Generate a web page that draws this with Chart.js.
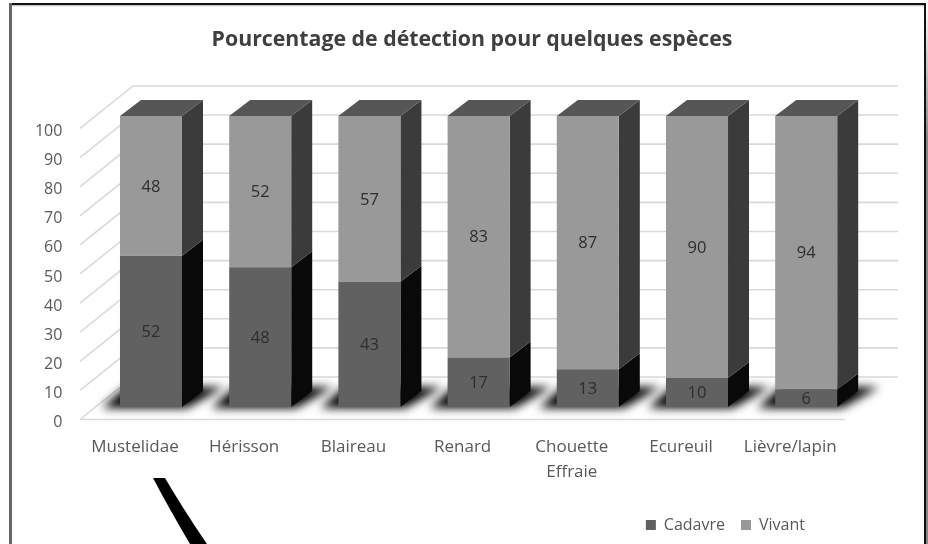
<!DOCTYPE html>
<html>
<head>
<meta charset="utf-8">
<script src="https://cdn.jsdelivr.net/npm/chart.js@4/dist/chart.umd.min.js"></script>
<style>
  html, body { margin:0; padding:0; background:#fff; }
  #wrap { position:relative; width:928px; height:544px; overflow:hidden; background:#fff; }
  #wrap canvas { position:absolute; left:0; top:0; filter:blur(0.55px); }
  .edge { position:absolute; }
</style>
</head>
<body>
<div id="wrap">
  <div class="edge" style="left:9px;top:3px;width:916px;height:2px;background:#111"></div>
  <div class="edge" style="left:11px;top:5px;width:913px;height:2px;background:linear-gradient(#bbb,#fff)"></div>
  <div class="edge" style="left:9px;top:3px;width:3px;height:541px;background:#666"></div>
  <div class="edge" style="left:924px;top:3px;width:2px;height:541px;background:#111"></div>
  <div class="edge" style="left:926px;top:3px;width:2px;height:541px;background:linear-gradient(#fff,#888 25%)"></div>
  <canvas id="chart" width="928" height="544"></canvas>
  <svg class="edge" style="left:0;top:0" width="928" height="544">
    <path d="M153 478 L165 478 Q185 512 207 544 L190 544 Q171 512 153 478 Z" fill="#000"/>
  </svg>
</div>
<script>
const especes = ['Mustelidae', 'Hérisson', 'Blaireau', 'Renard', ['Chouette', 'Effraie'], 'Ecureuil', 'Lièvre/lapin']
const cadavre = [52, 48, 43, 17, 13, 10, 6]
const vivant  = [48, 52, 57, 83, 87, 90, 94]

const gris = '#595959'
const police = '"Open Sans", sans-serif'

// faux 3D : decalages par rapport au plan avant des barres
const barDx = 21, barDy = -16
const murDyAvant = 12.5, murDyFond = -30
const couleurs = {
  cadavre: { face:'#616161', cote:'#090909' },
  vivant:  { face:'#999999', cote:'#3b3b3b' },
  dessus: '#565656'
}

function poly(ctx, pts, fill) {
  ctx.beginPath()
  pts.forEach((p, i) => i ? ctx.lineTo(p[0], p[1]) : ctx.moveTo(p[0], p[1]))
  ctx.closePath()
  ctx.fillStyle = fill
  ctx.fill()
}

const decor3d = {
  id: 'decor3d',
  afterLayout(chart) {
    // titre et legende ne sont pas centres sur le graphique d'origine
    chart.titleBlock.left = 0
    chart.titleBlock.right = 944
    chart.legend.right = 821
    chart.legend.top -= 1
    chart.legend.bottom -= 1
  },
  beforeDatasetsDraw(chart) {
    const { ctx, scales: { y } } = chart
    const x0 = 80, x1 = 845, xFond0 = 133, xFond1 = 898
    ctx.save()
    ctx.strokeStyle = '#d9d9d9'
    ctx.lineWidth = 1.6
    y.ticks.forEach(t => {
      const py = y.getPixelForValue(t.value)
      ctx.beginPath()
      ctx.moveTo(x0, py + murDyAvant)
      ctx.lineTo(xFond0, py + murDyFond)
      ctx.lineTo(xFond1, py + murDyFond)
      ctx.stroke()
    })
    const py0 = y.getPixelForValue(0)
    ctx.beginPath()
    ctx.moveTo(x0, py0 + murDyAvant)
    ctx.lineTo(x1, py0 + murDyAvant)
    ctx.stroke()

    const bas = chart.getDatasetMeta(0).data
    const haut = chart.getDatasetMeta(1).data
    // ombre au sol
    ctx.save()
    ctx.filter = 'blur(5px)'
    bas.forEach(b => {
      const l = b.x - b.width / 2, r = b.x + b.width / 2
      poly(ctx, [[l - 18, b.base + 1], [r + 5, b.base + 1], [r + 42, b.base - 20], [l + 6, b.base - 20]], '#000')
    })
    ctx.restore()
    // cotes et dessus
    bas.forEach((b, i) => {
      const t = haut[i]
      const r = b.x + b.width / 2, l = b.x - b.width / 2
      poly(ctx, [[r, b.base], [r + barDx, b.base + barDy], [r + barDx, b.y + barDy], [r, b.y]], couleurs.cadavre.cote)
      poly(ctx, [[r, b.y], [r + barDx, b.y + barDy], [r + barDx, t.y + barDy], [r, t.y]], couleurs.vivant.cote)
      poly(ctx, [[l, t.y], [l + barDx, t.y + barDy], [r + barDx, t.y + barDy], [r, t.y]], couleurs.dessus)
    })
    ctx.restore()
  },
  afterDatasetsDraw(chart) {
    const { ctx } = chart
    ctx.save()
    ctx.font = '16.5px ' + police
    ctx.fillStyle = '#2e2e2e'
    ctx.textAlign = 'center'
    ctx.textBaseline = 'middle'
    chart.data.datasets.forEach((ds, d) => {
      chart.getDatasetMeta(d).data.forEach((b, i) => {
        ctx.fillText(String(ds.data[i]), b.x, (b.y + b.base) / 2 + 1)
      })
    })
    ctx.restore()
  }
}

new Chart(document.getElementById('chart'), {
  type: 'bar',
  plugins: [decor3d],
  data: {
    labels: especes,
    datasets: [
      { label:'Cadavre', data:cadavre, backgroundColor:couleurs.cadavre.face, stack:'s' },
      { label:'Vivant',  data:vivant,  backgroundColor:couleurs.vivant.face,  stack:'s' }
    ]
  },
  options: {
    responsive:false, animation:false,
    layout: { padding:{ left:0, right:67.2, top:0, bottom:0 } },
    datasets: { bar:{ categoryPercentage:1, barPercentage:0.568 } },
    plugins: {
      tooltip: { enabled:false },
      title: { display:true, text:'Pourcentage de détection pour quelques espèces', color:'#3f3f3f',
        font:{ family:police, size:21.3, weight:'bold' }, padding:{ top:27, bottom:63.4 } },
      legend: { position:'bottom', align:'end',
        labels:{ color:gris, boxWidth:10, boxHeight:10, padding:16, font:{ family:police, size:16 } } }
    },
    scales: {
      x: { stacked:true, grid:{ display:false, drawTicks:false }, border:{ display:false },
        afterFit(s) { s.height = 95 },
        ticks:{ color:gris, font:{ family:police, size:17, lineHeight:1.45 }, padding:28, labelOffset:-16, autoSkip:false, maxRotation:0 } },
      y: { stacked:true, min:0, max:100, grid:{ display:false, drawTicks:false }, border:{ display:false },
        afterFit(s) { s.width = 96.4 },
        ticks:{ color:gris, stepSize:10, font:{ family:police, size:16 }, padding:34, labelOffset:15.5 } }
    }
  }
})
</script>
</body>
</html>
